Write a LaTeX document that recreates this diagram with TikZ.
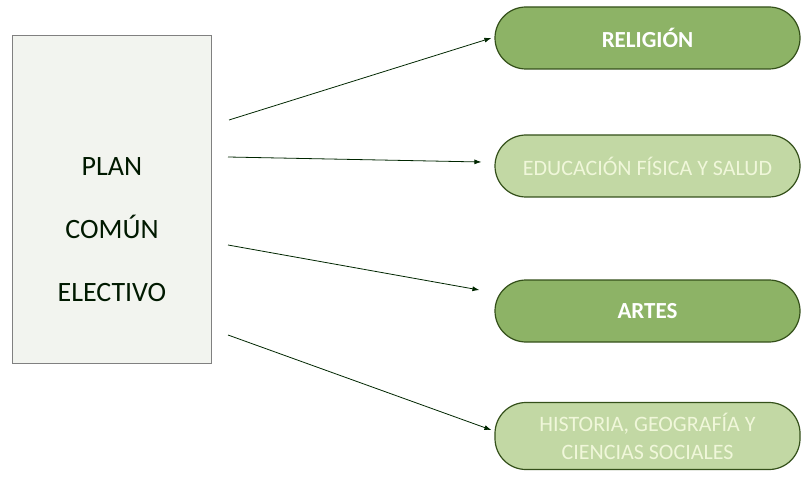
\documentclass[tikz,border=0pt]{standalone}
\usepackage{fontspec}
\setmainfont{Carlito}
\usepackage{tikz}
\usetikzlibrary{arrows.meta,positioning}
\definecolor{darkpill}{HTML}{8DB366}
\definecolor{lightpill}{HTML}{C2D8A4}
\definecolor{pilledge}{HTML}{34501A}
\definecolor{paletext}{HTML}{F0F7DA}
\definecolor{boxfill}{HTML}{F2F4EF}
\tikzset{
  pill/.style={draw=pilledge, line width=1.2pt, rounded corners=31pt, align=center,
    minimum width=305pt, minimum height=62pt, inner sep=0pt},
  dark/.style={pill, fill=darkpill, text=white, font=\fontsize{23}{28}\selectfont\bfseries},
  light/.style={pill, fill=lightpill, text=paletext, font=\fontsize{22}{28}\selectfont},
  arrow/.style={-{Latex[length=7pt,width=5pt]}, line width=0.8pt, draw=black!75!green!60!black}
}
\begin{document}
\begin{tikzpicture}[x=1pt,y=-1pt]
    \useasboundingbox (0,0) rectangle (802,478);
    % Left block
    \node[draw=gray, line width=0.8pt, fill=boxfill, minimum width=199pt, minimum height=328pt,
      inner sep=0pt] (plan) at (111.5,199) {};
    \node[align=center, text=black!90!green, font=\fontsize{28}{63}\selectfont] (plantext) at (112,230)
      {PLAN\\COMÚN\\ELECTIVO};
    % Subject pills
    \node[dark] (relig) at (647.5,38) {RELIGIÓN};
    \node[light] (edfis) at (647.5,166) {EDUCACIÓN FÍSICA Y SALUD};
    \node[dark] (artes) at (647.5,311) {ARTES};
    \node[light, minimum height=67pt] (hist) at (647.5,436) {HISTORIA, GEOGRAFÍA Y\\CIENCIAS SOCIALES};
    % Arrow starts
    \coordinate (a1) at (229,120);
    \coordinate (a2) at (228,157);
    \coordinate (a3) at (228,245);
    \coordinate (a4) at (228,335);
    \draw[arrow] (a1) -- ([xshift=-3pt]relig.west);
    \draw[arrow] (a2) -- ([xshift=-13pt,yshift=4pt]edfis.west);
    \draw[arrow] (a3) -- ([xshift=-15pt,yshift=21pt]artes.west);
    \draw[arrow] (a4) -- ([xshift=-3pt,yshift=6pt]hist.west);
  \end{tikzpicture}
\end{document}
